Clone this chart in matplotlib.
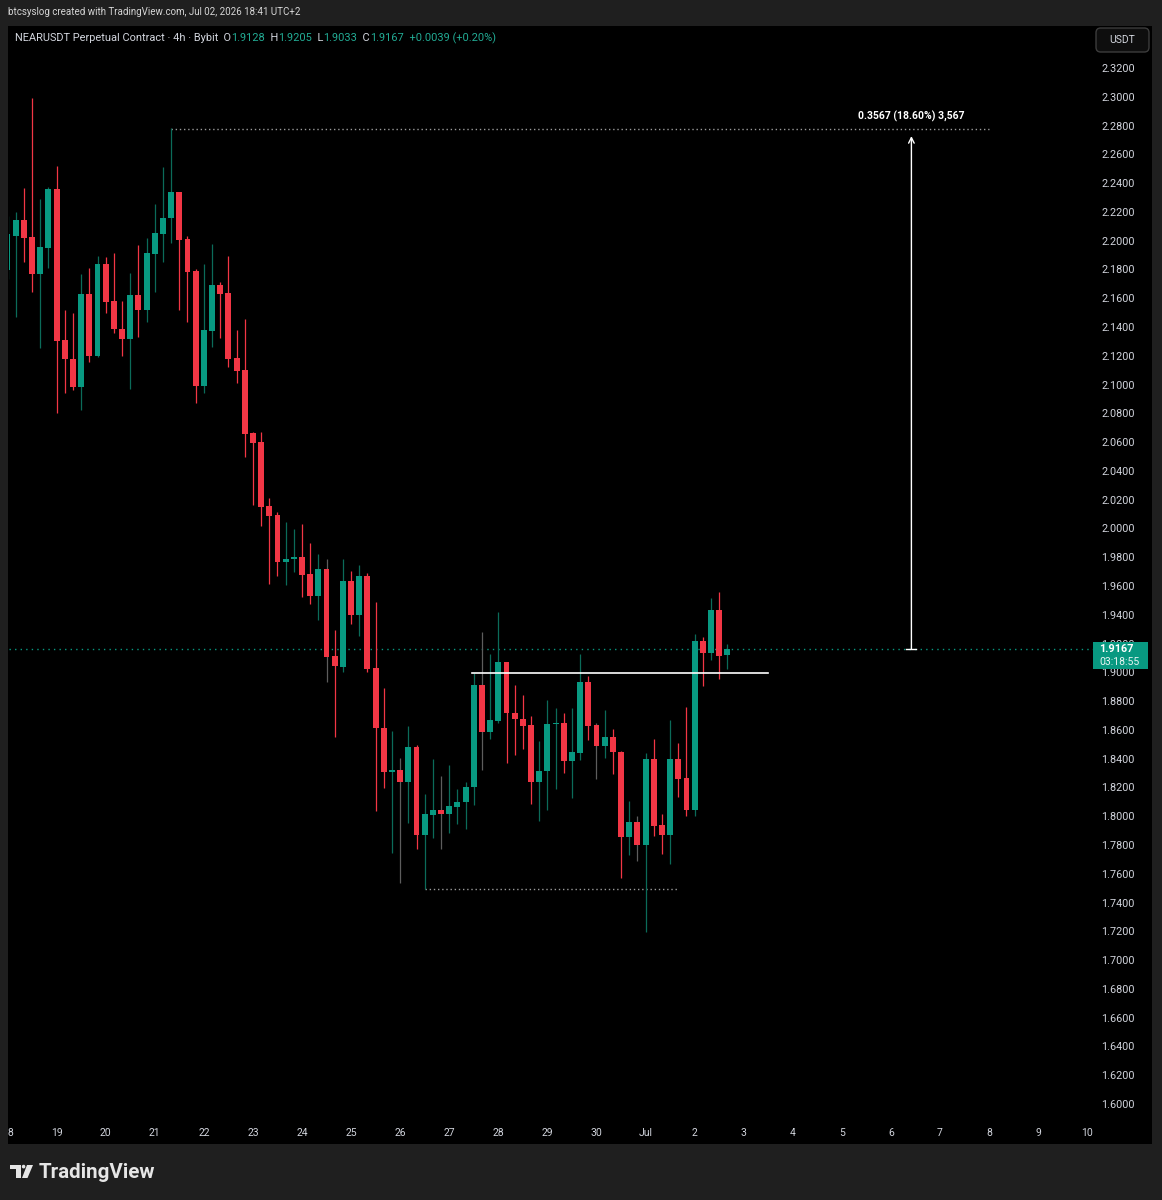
import numpy as np
import matplotlib
matplotlib.use("Agg")
import matplotlib.pyplot as plt
from matplotlib.patches import Rectangle, Polygon, Circle, FancyBboxPatch
from matplotlib.transforms import blended_transform_factory

W, H = 1162, 1200

# 4h candles, NEARUSDT (first one is cut by the left edge)
opens = [2.1800, 2.2039, 2.2151, 2.2032, 2.1775, 2.1956, 2.2366, 2.1317, 2.1184, 2.0990,
         2.1636, 2.1205, 2.1845, 2.1588, 2.1393, 2.1323, 2.1629, 2.1525, 2.1914, 2.2053,
         2.2164, 2.2345, 2.2018, 2.1796, 2.0997, 2.1379, 2.1699, 2.1643, 2.1191, 2.1108,
         2.0670, 2.0608, 2.0163, 2.0100, 1.9774, 1.9794, 1.9808, 1.9690, 1.9537, 1.9725,
         1.9120, 1.9044, 1.9642, 1.9405, 1.9676, 1.9037, 1.8620, 1.8314, 1.8328, 1.8245,
         1.8488, 1.7876, 1.8015, 1.8050, 1.8022, 1.8071, 1.8106, 1.8210, 1.8919, 1.8592,
         1.8669, 1.9079, 1.8724, 1.8683, 1.8641, 1.8245, 1.8321, 1.8650, 1.8655, 1.8391,
         1.8446, 1.8940, 1.8641, 1.8495, 1.8557, 1.8453, 1.7862, 1.7967, 1.7807, 1.8405,
         1.7946, 1.7876, 1.8405, 1.8272, 1.8050, 1.9225, 1.9141, 1.9440, 1.9128]
highs = [2.2180, 2.2206, 2.2373, 2.2998, 2.2297, 2.2380, 2.2526, 2.1526, 2.1504, 2.1775,
         2.1817, 2.1900, 2.1893, 2.1921, 2.1588, 2.1782, 2.1977, 2.2025, 2.2262, 2.2519,
         2.2790, 2.2345, 2.2039, 2.1810, 2.1845, 2.1984, 2.1720, 2.1900, 2.1386, 2.1463,
         2.0677, 2.0677, 2.0218, 2.0121, 2.0052, 2.0003, 2.0038, 1.9906, 1.9829, 1.9794,
         1.9301, 1.9794, 1.9711, 1.9753, 1.9697, 1.9496, 1.8898, 1.8599, 1.8411, 1.8634,
         1.8502, 1.8161, 1.8405, 1.8286, 1.8363, 1.8196, 1.8245, 1.9002, 1.9287, 1.9134,
         1.9426, 1.9079, 1.8919, 1.8849, 1.8703, 1.8530, 1.8815, 1.8759, 1.8724, 1.8759,
         1.9134, 1.8981, 1.8655, 1.8745, 1.8613, 1.8460, 1.8113, 1.8008, 1.8446, 1.8544,
         1.8022, 1.8676, 1.8516, 1.8766, 1.9273, 1.9252, 1.9523, 1.9565, 1.9205]
lows = [2.1740, 2.1476, 2.1859, 2.1650, 2.1261, 2.1817, 2.0809, 2.0948, 2.0969, 2.0830,
        2.1164, 2.1198, 2.1504, 2.1365, 2.1205, 2.0976, 2.1337, 2.1442, 2.1650, 2.1859,
        2.1991, 2.1525, 2.1442, 2.0879, 2.0948, 2.1268, 2.1330, 2.1129, 2.1018, 2.0503,
        2.0170, 2.0024, 1.9621, 1.9676, 1.9614, 1.9704, 1.9530, 1.9482, 1.9371, 1.8940,
        1.8557, 1.9009, 1.9343, 1.9259, 1.9009, 1.8043, 1.8203, 1.7751, 1.7543, 1.7960,
        1.7779, 1.7501, 1.7855, 1.7779, 1.7890, 1.7953, 1.7918, 1.8085, 1.8328, 1.8544,
        1.8655, 1.8377, 1.8432, 1.8474, 1.8092, 1.7974, 1.8050, 1.8196, 1.8307, 1.8133,
        1.8398, 1.8537, 1.8265, 1.8411, 1.8300, 1.7577, 1.7737, 1.7696, 1.7202, 1.7869,
        1.7744, 1.7675, 1.8140, 1.8008, 1.8008, 1.8912, 1.9093, 1.8960, 1.9033]
closes = [2.2050, 2.2151, 2.2025, 2.1775, 2.1963, 2.2366, 2.1310, 2.1184, 2.0990, 2.1636,
          2.1205, 2.1845, 2.1581, 2.1393, 2.1323, 2.1629, 2.1525, 2.1921, 2.2060, 2.2164,
          2.2345, 2.2011, 2.1789, 2.0997, 2.1386, 2.1699, 2.1636, 2.1184, 2.1101, 2.0663,
          2.0601, 2.0156, 2.0093, 1.9774, 1.9794, 1.9808, 1.9683, 1.9537, 1.9725, 1.9113,
          1.9051, 1.9642, 1.9405, 1.9676, 1.9030, 1.8620, 1.8314, 1.8328, 1.8245, 1.8488,
          1.7876, 1.8022, 1.8050, 1.8022, 1.8078, 1.8106, 1.8210, 1.8919, 1.8592, 1.8676,
          1.9079, 1.8724, 1.8683, 1.8634, 1.8245, 1.8321, 1.8648, 1.8655, 1.8391, 1.8453,
          1.8940, 1.8634, 1.8495, 1.8557, 1.8453, 1.7862, 1.7967, 1.7807, 1.8405, 1.7939,
          1.7876, 1.8405, 1.8265, 1.8050, 1.9225, 1.9141, 1.9440, 1.9120, 1.9167]
gray_wicks = [38, 47, 52, 57, 71, 76]   # candle numbers drawn with a grey wick

day_labels = ["18", "19", "20", "21", "22", "23", "24", "25", "26", "27", "28", "29",
              "30", "Jul", "2", "3", "4", "5", "6", "7", "8", "9", "10"]
price_ticks = np.round(np.arange(1.60, 2.3201, 0.02), 2)

last_price = 1.9167
countdown = "03:18:55"
resistance = 1.9000
support = 1.7501
swing_high = 2.2785
measure_top = 2.2734
measure_text = "0.3567 (18.60%) 3,567"

header = "btcsyslog created with TradingView.com, Jul 02, 2026 18:41 UTC+2"
legend_parts = [("NEARUSDT Perpetual Contract · 4h · Bybit", "txt"), ("  O", "txt"), ("1.9128", "val"),
                ("  H", "txt"), ("1.9205", "val"), ("  L", "txt"), ("1.9033", "val"),
                ("  C", "txt"), ("1.9167", "val"), ("  +0.0039 (+0.20%)", "val")]

UP = "#089981"
DOWN = "#f23645"
UP_WICK = "#0b6b59"
TXT = "#d1d4dc"
VAL = "#22ab94"

plt.rcParams['font.family'] = ['Roboto', 'DejaVu Sans']


def fx(x):
    return x / W


def fy(y):
    return 1 - y / H


fig = plt.figure(figsize=(W / 100, H / 100), dpi=100, facecolor="#1f1f1f")

# black chart panel
panel = Rectangle((fx(8), fy(1144)), fx(1152) - fx(8), fy(26) - fy(1144),
                  transform=fig.transFigure, facecolor="black", edgecolor="none", zorder=-1)
fig.patches.append(panel)

ax = fig.add_axes([fx(9), fy(1118), fx(1093) - fx(9), fy(26) - fy(1118)])
ax.set_facecolor("black")
for s in ax.spines.values():
    s.set_visible(False)
ax.set_xlim(-0.82, 131.7)
ax.set_ylim(1.59097, 2.34988)
ax.set_xticks([])
ax.set_yticks([])

idx = np.arange(len(opens)) - 1
o = np.array(opens)
h = np.array(highs)
l = np.array(lows)
c = np.array(closes)
up = c >= o
body_col = [UP if u else DOWN for u in up]
wick_col = []
for i, u in zip(idx, up):
    if i in gray_wicks:
        wick_col.append("#5d5d5d")
    else:
        wick_col.append(UP_WICK if u else DOWN)

ax.vlines(idx, l, h, colors=wick_col, linewidth=0.9, zorder=2)
bottom = np.minimum(o, c)
height = np.maximum(np.abs(c - o), 0.0008)
ax.bar(idx, height, bottom=bottom, width=0.72, color=body_col, linewidth=0, zorder=3)

# drawings
ax.axhline(last_price, color=UP, lw=1, ls=(0, (1, 3)), zorder=1)
ax.plot([55.8, 92], [resistance, resistance], color="white", lw=1.2, zorder=4)
ax.plot([50, 80.8], [support, support], color="#9a9a9a", lw=1, ls=(0, (1, 2)), zorder=1)
ax.plot([19, 119], [swing_high, swing_high], color="#9a9a9a", lw=1, ls=(0, (1, 2)), zorder=1)
ax.annotate("", xy=(109.5, measure_top), xytext=(109.5, last_price),
            arrowprops=dict(arrowstyle="->", color="white", lw=1, shrinkA=0, shrinkB=0,
                            mutation_scale=10))
ax.plot([108.9, 110.1], [last_price, last_price], color="white", lw=1)
ax.annotate(measure_text, xy=(109.5, measure_top), xytext=(0, 14), textcoords="offset points",
            ha="center", va="center", color="white", fontsize=7.5, fontweight="bold")

# price scale
tr = blended_transform_factory(ax.transAxes, ax.transData)
x_lab = (1101 - 9) / (1093 - 9)
for p in price_ticks:
    ax.text(x_lab, p, "%.4f" % p, transform=tr, ha="left", va="center",
            color=TXT, fontsize=7.8, clip_on=False)

# time scale
for k, lab in enumerate(day_labels):
    t = ax.text(5 + 6 * (k - 1), -0.014, lab, transform=blended_transform_factory(ax.transData, ax.transAxes),
                ha="center", va="center", color=TXT, fontsize=7.5, clip_on=True)
    t.set_clip_path(panel)

# last price box
box = Rectangle((fx(1093), fy(669)), fx(1148) - fx(1093), fy(642) - fy(669),
                transform=fig.transFigure, facecolor=UP, edgecolor="none", zorder=1)
fig.patches.append(box)
fig.text(fx(1099), fy(649), "%.4f" % last_price, color="white", fontsize=7.8,
         fontweight="bold", ha="left", va="center")
fig.text(fx(1099), fy(662), countdown, color="#e8f5f2", fontsize=7.5, ha="left", va="center")

# USDT box
ub = FancyBboxPatch((fx(1096), fy(52)), fx(1149) - fx(1096), fy(28) - fy(52),
                    boxstyle="round,pad=0,rounding_size=0.004", transform=fig.transFigure,
                    facecolor="#0e0e0e", edgecolor="#3c3c3c", lw=1, zorder=1)
fig.patches.append(ub)
fig.text(fx(1122.5), fy(40), "USDT", color=TXT, fontsize=7.5, ha="center", va="center")

# header and legend
fig.text(fx(8), fy(12), header, color="#d6d6d6", fontsize=7.0, ha="left", va="center")
fig.canvas.draw()
rend = fig.canvas.get_renderer()
xpos = fx(15)
for s, kind in legend_parts:
    t = fig.text(xpos, fy(38), s, color=TXT if kind == "txt" else VAL, fontsize=7.9,
                 ha="left", va="center")
    bb = t.get_window_extent(rend)
    xpos = bb.x1 / W

# TradingView logo
fig.patches.append(Polygon([(fx(10), fy(1165)), (fx(21), fy(1165)), (fx(21), fy(1178)),
                            (fx(16), fy(1178)), (fx(16), fy(1169)), (fx(10), fy(1169))],
                           closed=True, transform=fig.transFigure, facecolor="#e6e6e6", edgecolor="none"))
fig.patches.append(Circle((fx(23.6), fy(1166.6)), 1.8 / W, transform=fig.transFigure,
                          facecolor="#e6e6e6", edgecolor="none"))
fig.patches.append(Polygon([(fx(27), fy(1165)), (fx(33), fy(1165)), (fx(27.5), fy(1178)),
                            (fx(22), fy(1178))],
                           closed=True, transform=fig.transFigure, facecolor="#e6e6e6", edgecolor="none"))
fig.text(fx(39), fy(1172), "TradingView", color="#e6e6e6", fontsize=14.8, fontweight="bold",
         ha="left", va="center")

fig.savefig("out.png", dpi=100, facecolor=fig.get_facecolor())
